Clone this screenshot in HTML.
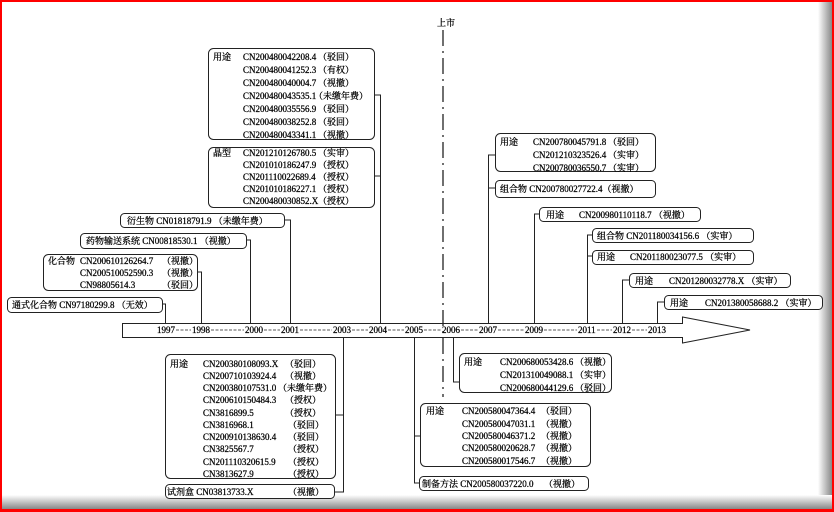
<!DOCTYPE html>
<html><head><meta charset="utf-8">
<style>
html,body{margin:0;padding:0;background:#fff;}
#f{position:relative;width:834px;height:512px;overflow:hidden;background:#fff;}
svg text{font-family:"Liberation Serif","Noto Serif CJK SC",serif;font-size:9px;fill:#000;stroke:#000;stroke-width:0.25;}
</style></head><body><div id="f">
<svg width="834" height="512" viewBox="0 0 834 512" xmlns="http://www.w3.org/2000/svg">
<defs>
<linearGradient id="gr" x1="0" x2="1" y1="0" y2="0"><stop offset="0" stop-color="#fff"/><stop offset="1" stop-color="#888"/></linearGradient>
<linearGradient id="gb" x1="0" x2="0" y1="0" y2="1"><stop offset="0" stop-color="#fff"/><stop offset="1" stop-color="#888"/></linearGradient>
</defs>
<rect x="818" y="0" width="14" height="512" fill="url(#gr)"/>
<rect x="0" y="495" width="834" height="14" fill="url(#gb)"/>
<rect x="0" y="0" width="834" height="2" fill="#f00"/>
<rect x="0" y="0" width="2" height="512" fill="#f00"/>
<rect x="832" y="0" width="2" height="512" fill="#f00"/>
<rect x="0" y="509" width="834" height="3" fill="#f00"/>

<g stroke="#222" stroke-width="1" fill="none">
<path d="M122.5 323.5 H682.5 V317 L750 330 L682.5 343 V337.5 H122.5 Z" fill="#fff"/>
<line x1="443" y1="30" x2="443" y2="397" stroke-width="1.3" stroke-dasharray="16 5 2 5"/>
<path d="M374 95 H380.5 V323 M374 176 H380.5"/>
<path d="M284 220 H290.5 V323"/>
<path d="M246 240 H250.5 V323"/>
<path d="M197 272 H201.5 V323"/>
<path d="M162 304 H165.5 V323"/>
<path d="M495 155 H488.5 V323 M495 188 H488.5"/>
<path d="M539 214 H534.5 V323"/>
<path d="M592 235 H587.5 V323 M592 256 H587.5"/>
<path d="M629 280 H622.5 V323"/>
<path d="M664 302 H657.5 V323"/>
<path d="M343.5 337 V492 H334 M343.5 415 H335"/>
<path d="M453.5 337 V382 H459"/>
<path d="M414.5 337 V483 H419 M414.5 436 H420"/>
<g fill="#fff">
<rect x="208.5" y="48.5" width="166" height="91" rx="5"/>
<rect x="208.5" y="147.5" width="166" height="60" rx="5"/>
<rect x="120.5" y="213.5" width="164" height="14" rx="4"/>
<rect x="80.5" y="233.5" width="166" height="15" rx="4"/>
<rect x="43.5" y="254.5" width="154" height="36" rx="5"/>
<rect x="7.5" y="297.5" width="155" height="15" rx="4"/>
<rect x="495.5" y="133.5" width="160" height="38" rx="5"/>
<rect x="495.5" y="180.5" width="160" height="17" rx="4"/>
<rect x="539.5" y="207.5" width="161" height="14" rx="4"/>
<rect x="592.5" y="228.5" width="161" height="14" rx="4"/>
<rect x="592.5" y="250.5" width="161" height="14" rx="4"/>
<rect x="629.5" y="273.5" width="161" height="14" rx="4"/>
<rect x="664.5" y="295.5" width="158" height="14" rx="4"/>
<rect x="165.5" y="354.5" width="170" height="124" rx="5"/>
<rect x="165.5" y="484.5" width="169" height="14" rx="4"/>
<rect x="459.5" y="353.5" width="152" height="39" rx="5"/>
<rect x="420.5" y="403.5" width="170" height="63" rx="5"/>
<rect x="419.5" y="476.5" width="169" height="14" rx="4"/>
</g>
</g>

<g stroke="#222" stroke-width="0.8" stroke-dasharray="3 1.5">
<line x1="176" y1="330" x2="191" y2="330"/>
<line x1="211" y1="330" x2="244" y2="330"/>
<line x1="264" y1="330" x2="280" y2="330"/>
<line x1="300" y1="330" x2="332" y2="330"/>
<line x1="352" y1="330" x2="368" y2="330"/>
<line x1="388" y1="330" x2="404" y2="330"/>
<line x1="424" y1="330" x2="441" y2="330"/>
<line x1="461" y1="330" x2="478" y2="330"/>
<line x1="498" y1="330" x2="524" y2="330"/>
<line x1="544" y1="330" x2="577" y2="330"/>
<line x1="597" y1="330" x2="612" y2="330"/>
<line x1="632" y1="330" x2="647" y2="330"/>
</g>

<text x="437" y="26">上市</text>

<g>
<text x="157" y="333">1997</text>
<text x="192" y="333">1998</text>
<text x="245" y="333">2000</text>
<text x="281" y="333">2001</text>
<text x="333" y="333">2003</text>
<text x="369" y="333">2004</text>
<text x="405" y="333">2005</text>
<text x="442" y="333">2006</text>
<text x="479" y="333">2007</text>
<text x="525" y="333">2009</text>
<text x="578" y="333">2011</text>
<text x="613" y="333">2012</text>
<text x="648" y="333">2013</text>
</g>

<text x="213" y="60">用途</text>
<text x="243" y="60">CN200480042208.4</text><text x="318" y="60">（驳回）</text>
<text x="243" y="73">CN200480041252.3</text><text x="318" y="73">（有权）</text>
<text x="243" y="86">CN200480040004.7</text><text x="318" y="86">（视撤）</text>
<text x="243" y="99">CN200480043535.1</text><text x="314" y="99">（未缴年费）</text>
<text x="243" y="112">CN200480035556.9</text><text x="318" y="112">（驳回）</text>
<text x="243" y="125">CN200480038252.8</text><text x="318" y="125">（驳回）</text>
<text x="243" y="138">CN200480043341.1</text><text x="318" y="138">（视撤）</text>
<text x="213" y="156">晶型</text>
<text x="243" y="156">CN201210126780.5</text><text x="318" y="156">（实审）</text>
<text x="243" y="168">CN201010186247.9</text><text x="318" y="168">（授权）</text>
<text x="243" y="180">CN201110022689.4</text><text x="318" y="180">（授权）</text>
<text x="243" y="192">CN201010186227.1</text><text x="318" y="192">（授权）</text>
<text x="243" y="204">CN200480030852.X</text><text x="318" y="204">（授权）</text>

<text x="127" y="224">衍生物   CN01818791.9 （未缴年费）</text>
<text x="86" y="244">药物输送系统   CN00818530.1 （视撤）</text>
<text x="48" y="264">化合物</text><text x="80" y="264">CN200610126264.7</text><text x="162" y="264">（视撤）</text>
<text x="80" y="276">CN200510052590.3</text><text x="162" y="276">（视撤）</text>
<text x="80" y="288">CN98805614.3</text><text x="162" y="288">（驳回）</text>
<text x="12" y="308">通式化合物   CN97180299.8 （无效）</text>

<text x="500" y="145">用途</text><text x="533" y="145">CN200780045791.8</text><text x="608" y="145">（驳回）</text>
<text x="533" y="158">CN201210323526.4</text><text x="608" y="158">（实审）</text>
<text x="533" y="171">CN200780036550.7</text><text x="608" y="171">（实审）</text>
<text x="500" y="192">组合物   CN200780027722.4（视撤）</text>
<text x="546" y="218">用途</text><text x="579" y="218">CN200980110118.7 （视撤）</text>
<text x="597" y="239">组合物   CN201180034156.6    （实审）</text>
<text x="597" y="260">用途</text><text x="630" y="260">CN201180023077.5   （实审）</text>
<text x="635" y="284">用途</text><text x="669" y="284">CN201280032778.X   （实审）</text>
<text x="670" y="306">用途</text><text x="705" y="306">CN201380058688.2   （实审）</text>

<text x="170" y="367">用途</text>
<text x="203" y="367">CN200380108093.X</text><text x="285" y="367">（驳回）</text>
<text x="203" y="379">CN200710103924.4</text><text x="285" y="379">（视撤）</text>
<text x="203" y="391">CN200380107531.0</text><text x="278" y="391">（未缴年费）</text>
<text x="203" y="403">CN200610150484.3</text><text x="285" y="403">（授权）</text>
<text x="203" y="416">CN3816899.5</text><text x="285" y="416">（授权）</text>
<text x="203" y="428">CN3816968.1</text><text x="288" y="428">（驳回）</text>
<text x="203" y="440">CN200910138630.4</text><text x="288" y="440">（驳回）</text>
<text x="203" y="452">CN3825567.7</text><text x="288" y="452">（授权）</text>
<text x="203" y="465">CN201110320615.9</text><text x="288" y="465">（授权）</text>
<text x="203" y="477">CN3813627.9</text><text x="288" y="477">（授权）</text>
<text x="167" y="495">试剂盒   CN03813733.X</text><text x="288" y="495">（视撤）</text>

<text x="464" y="365">用途</text><text x="500" y="365">CN200680053428.6</text><text x="575" y="365">（视撤）</text>
<text x="500" y="378">CN201310049088.1</text><text x="575" y="378">（实审）</text>
<text x="500" y="391">CN200680044129.6</text><text x="575" y="391">（驳回）</text>
<text x="426" y="414">用途</text><text x="462" y="414">CN200580047364.4</text><text x="541" y="414">（驳回）</text>
<text x="462" y="427">CN200580047031.1</text><text x="541" y="427">（视撤）</text>
<text x="462" y="439">CN200580046371.2</text><text x="541" y="439">（视撤）</text>
<text x="462" y="451">CN200580020628.7</text><text x="541" y="451">（视撤）</text>
<text x="462" y="464">CN200580017546.7</text><text x="541" y="464">（视撤）</text>
<text x="422" y="487">制备方法   CN200580037220.0</text><text x="544" y="487">（视撤）</text>
</svg>
</div></body></html>
